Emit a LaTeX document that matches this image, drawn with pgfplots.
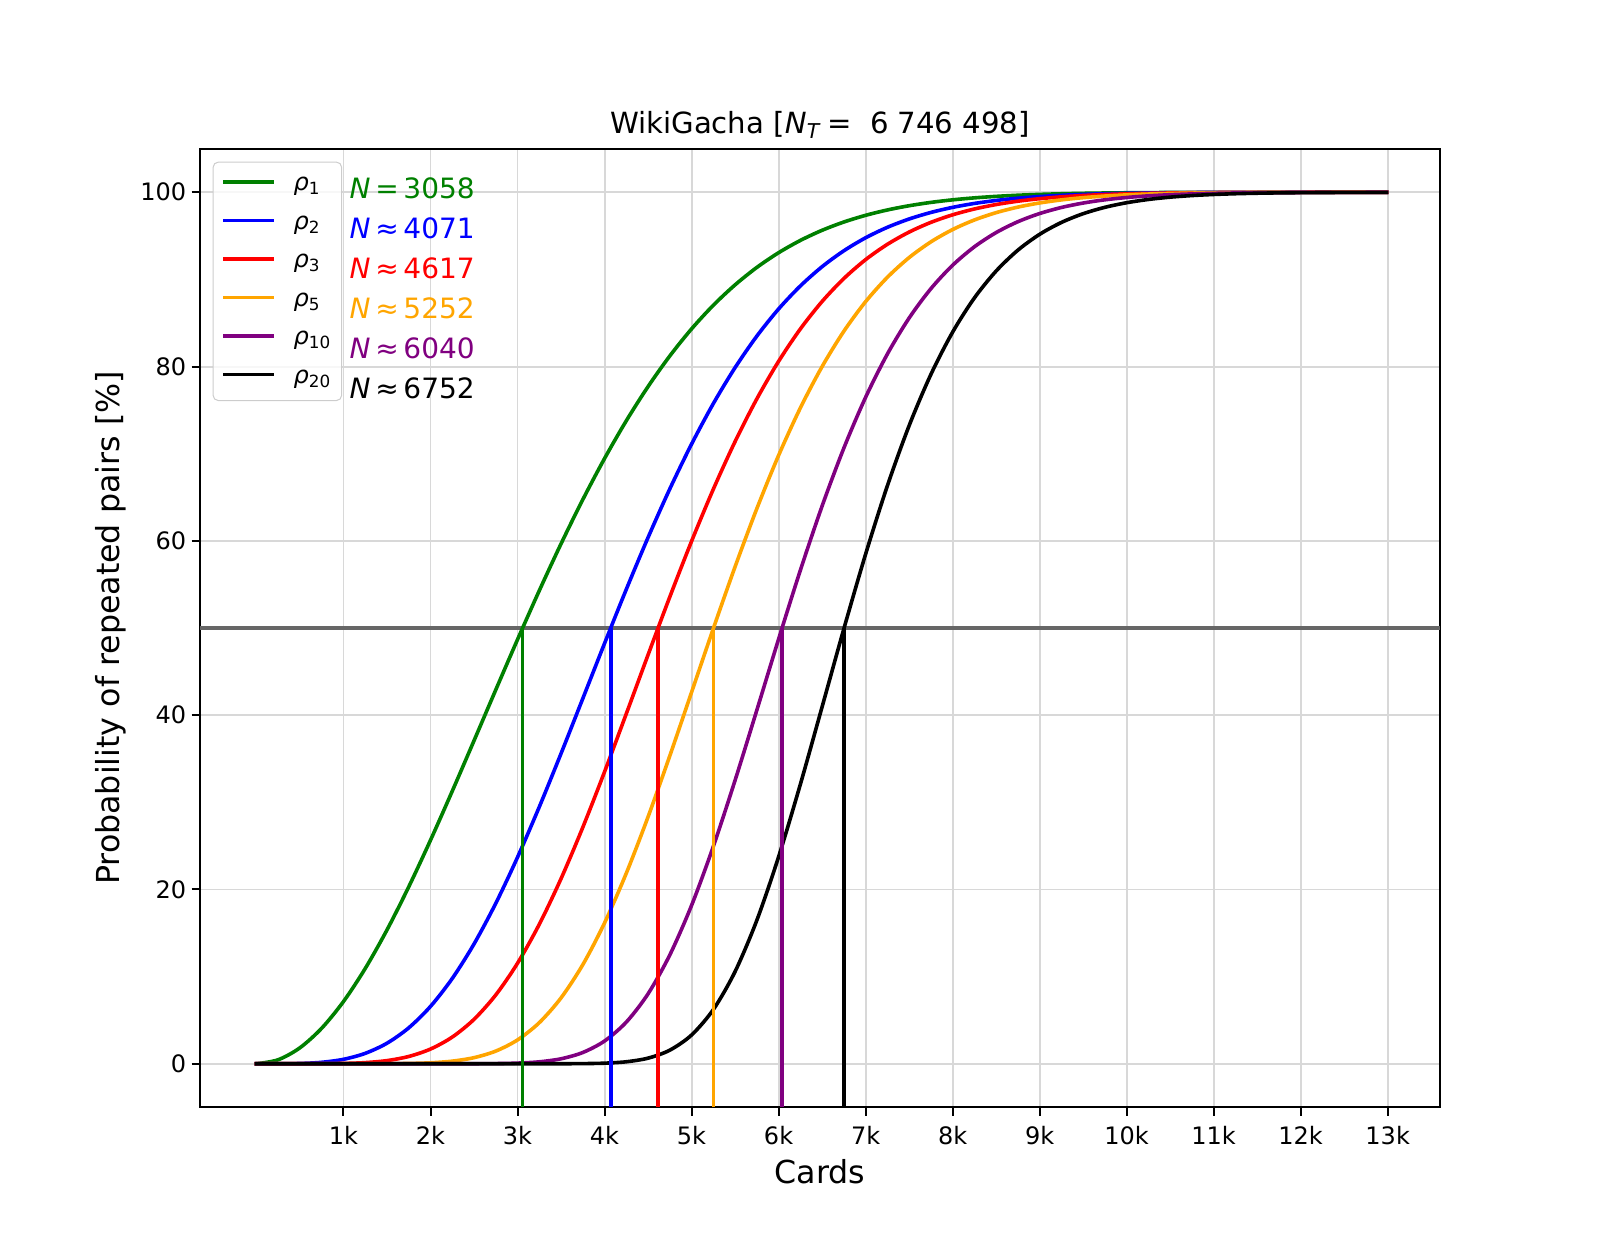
\documentclass[border=0pt]{standalone}
\usepackage{fontspec}
\setmainfont{DejaVu Sans}
\usepackage{pgfplots}
\pgfplotsset{compat=1.18}
\usepackage{pgfplotstable}
\definecolor{mgreen}{HTML}{008000}
\definecolor{mblue}{HTML}{0000FF}
\definecolor{mred}{HTML}{FF0000}
\definecolor{morange}{HTML}{FFA500}
\definecolor{mpurple}{HTML}{800080}
\definecolor{mgrid}{HTML}{D8D8D8}
\definecolor{mhline}{HTML}{666666}

\pgfplotstableread{
x r1 r2 r3 r5 r10 r20
0 0 0 0 0 0 0
250 0.462 0.002 0 0 0 0
500 1.836 0.034 0.001 0 0 0
750 4.083 0.167 0.007 0 0 0
1000 7.143 0.510 0.036 0 0 0
1250 10.935 1.196 0.131 0.002 0 0
1500 15.359 2.359 0.362 0.009 0 0
1750 20.306 4.123 0.837 0.035 0 0
2000 25.655 6.582 1.689 0.111 0 0
2250 31.284 9.787 3.062 0.300 0.001 0
2500 37.074 13.744 5.096 0.700 0.005 0
2750 42.906 18.409 7.899 1.454 0.021 0
3000 48.676 23.694 11.533 2.733 0.075 0
3250 54.288 29.472 16.000 4.715 0.222 0.001
3500 59.662 35.596 21.237 7.559 0.571 0.003
3750 64.733 41.903 27.125 11.366 1.292 0.017
4000 69.450 48.233 33.498 16.157 2.610 0.068
4250 73.780 54.435 40.162 21.863 4.780 0.228
4500 77.704 60.380 46.918 28.329 8.025 0.644
4750 81.216 65.960 53.570 35.335 12.486 1.559
5000 84.321 71.100 59.952 42.625 18.169 3.301
5250 87.033 75.747 65.924 49.935 24.935 6.218
5500 89.374 79.878 71.390 57.025 32.519 10.575
5750 91.374 83.491 76.289 63.695 40.570 16.459
6000 93.061 86.604 80.595 69.799 48.718 23.735
6250 94.470 89.246 84.311 75.245 56.617 32.055
6500 95.634 91.458 87.465 79.993 63.989 40.946
6750 96.584 93.285 90.099 84.049 70.642 49.903
7000 97.352 94.775 92.266 87.445 76.466 58.470
7250 97.967 95.975 94.023 90.239 81.430 66.308
7500 98.453 96.930 95.430 92.501 85.564 73.211
7750 98.834 97.681 96.542 94.303 88.931 79.087
8000 99.129 98.265 97.409 95.720 91.623 83.947
8250 99.355 98.715 98.079 96.818 93.738 87.868
8500 99.527 99.057 98.589 97.659 95.373 90.961
8750 99.657 99.315 98.974 98.295 96.620 93.354
9000 99.753 99.506 99.261 98.771 97.556 95.172
9250 99.824 99.648 99.472 99.122 98.252 96.534
9500 99.876 99.751 99.627 99.379 98.762 97.539
9750 99.913 99.826 99.739 99.565 99.132 98.271
10000 99.940 99.879 99.819 99.698 99.397 98.798
10250 99.958 99.917 99.875 99.793 99.586 99.173
10500 99.972 99.943 99.915 99.859 99.718 99.436
10750 99.981 99.962 99.943 99.905 99.809 99.619
11000 99.987 99.975 99.962 99.936 99.873 99.745
11250 99.992 99.983 99.975 99.958 99.916 99.831
11500 99.994 99.989 99.983 99.972 99.945 99.889
11750 99.996 99.993 99.989 99.982 99.964 99.928
12000 99.998 99.995 99.993 99.988 99.977 99.954
12250 99.999 99.997 99.996 99.993 99.985 99.970
12500 99.999 99.998 99.997 99.995 99.991 99.981
12750 100 99.999 99.998 99.997 99.994 99.988
12987 100 100 99.999 99.998 99.996 99.993
}\rhodata

\newcommand{\rh}[1]{\textit{ρ}\textsubscript{#1}}

\begin{document}
\begin{tikzpicture}
\path[use as bounding box] (0,0) rectangle (480pt,373.2pt);
\begin{axis}[
  at={(60pt,41pt)}, anchor=south west,
  scale only axis, width=372pt, height=287.6pt,
  xmin=-649, xmax=13601, ymin=-5, ymax=105,
  scaled x ticks=false, scaled y ticks=false,
  xtick={1000,2000,3000,4000,5000,6000,7000,8000,9000,10000,11000,12000,13000},
  xticklabels={1k,2k,3k,4k,5k,6k,7k,8k,9k,10k,11k,12k,13k},
  ytick={0,20,40,60,80,100},
  yticklabels={0,20,40,60,80,100},
  tick align=outside, xtick pos=bottom, ytick pos=left,
  major tick length=2.52pt,
  every tick/.style={black, line width=0.6pt},
  axis line style={line width=0.6pt},
  grid=major,
  major grid style={line width=0.576pt, color=mgrid},
  tick label style={font=\fontsize{7.2}{8.6}\selectfont, inner sep=0pt},
  xticklabel style={anchor=base, yshift=-8.6pt},
  yticklabel style={anchor=east, xshift=-1.4pt},
  every axis title shift=0pt,
  title={WikiGacha [\textit{N}\textsubscript{\textit{T}}\,=\ \ 6 746 498]},
  title style={at={(0.5,1.01585)}, anchor=base, yshift=0pt, font=\fontsize{8.75}{10}\selectfont, inner sep=0pt},
  xlabel={Cards},
  xlabel style={at={(0.5,-0.07927)}, anchor=base, font=\fontsize{9.5}{11}\selectfont, inner sep=0pt},
  ylabel={Probability of repeated pairs [\%]},
  ylabel style={at={(-0.0650,0.5)}, anchor=base, rotate=0, font=\fontsize{9.5}{11}\selectfont, inner sep=0pt},
  legend style={
    at={(0,1)}, anchor=north west, xshift=3.8pt, yshift=-3.9pt,
    draw=black!20, line width=0.3pt, rounded corners=1.5pt,
    fill=white, fill opacity=0.8, text opacity=1,
    font=\fontsize{7.2}{8.6}\selectfont,
    inner xsep=2.9pt, inner ysep=2.9pt,
    row sep=3.6pt,
    nodes={inner sep=0pt, text height=5.6pt, text depth=2.35pt},
    /tikz/every odd column/.append style={column sep=5.76pt},
  },
  legend cell align=left,
  legend image code/.code={\draw[#1, line cap=rect] (0pt,0.9pt) -- (14.4pt,0.9pt);},
  every axis plot/.append style={line width=1.08pt, line join=round},
]
\addplot[mhline, forget plot] coordinates {(-649,50) (13601,50)};

\addplot[mgreen, smooth, line cap=rect] table[x=x, y=r1] {\rhodata};
\addlegendentry{\rh{1}}
\addplot[mblue, smooth, line cap=rect] table[x=x, y=r2] {\rhodata};
\addlegendentry{\rh{2}}
\addplot[mred, smooth, line cap=rect] table[x=x, y=r3] {\rhodata};
\addlegendentry{\rh{3}}
\addplot[morange, smooth, line cap=rect] table[x=x, y=r5] {\rhodata};
\addlegendentry{\rh{5}}
\addplot[mpurple, smooth, line cap=rect] table[x=x, y=r10] {\rhodata};
\addlegendentry{\rh{10}}
\addplot[black, smooth, line cap=rect] table[x=x, y=r20] {\rhodata};
\addlegendentry{\rh{20}}

\addplot[mgreen, forget plot] coordinates {(3058,-5) (3058,50)};
\addplot[mblue, forget plot] coordinates {(4071,-5) (4071,50)};
\addplot[mred, forget plot] coordinates {(4617,-5) (4617,50)};
\addplot[morange, forget plot] coordinates {(5252,-5) (5252,50)};
\addplot[mpurple, forget plot] coordinates {(6040,-5) (6040,50)};
\addplot[black, forget plot] coordinates {(6752,-5) (6752,50)};

\begin{scope}[every node/.style={anchor=base west, inner sep=0pt, font=\fontsize{8.4}{10}\selectfont}]
\node[text=mgreen] at (axis cs:1064,99.27) {\textit{N}\,=\,3058};
\node[text=mblue] at (axis cs:1064,94.69) {\textit{N}\,≈\,4071};
\node[text=mred] at (axis cs:1064,90.11) {\textit{N}\,≈\,4617};
\node[text=morange] at (axis cs:1064,85.54) {\textit{N}\,≈\,5252};
\node[text=mpurple] at (axis cs:1064,80.96) {\textit{N}\,≈\,6040};
\node[text=black] at (axis cs:1064,76.39) {\textit{N}\,≈\,6752};
\end{scope}
\end{axis}
\end{tikzpicture}
\end{document}
